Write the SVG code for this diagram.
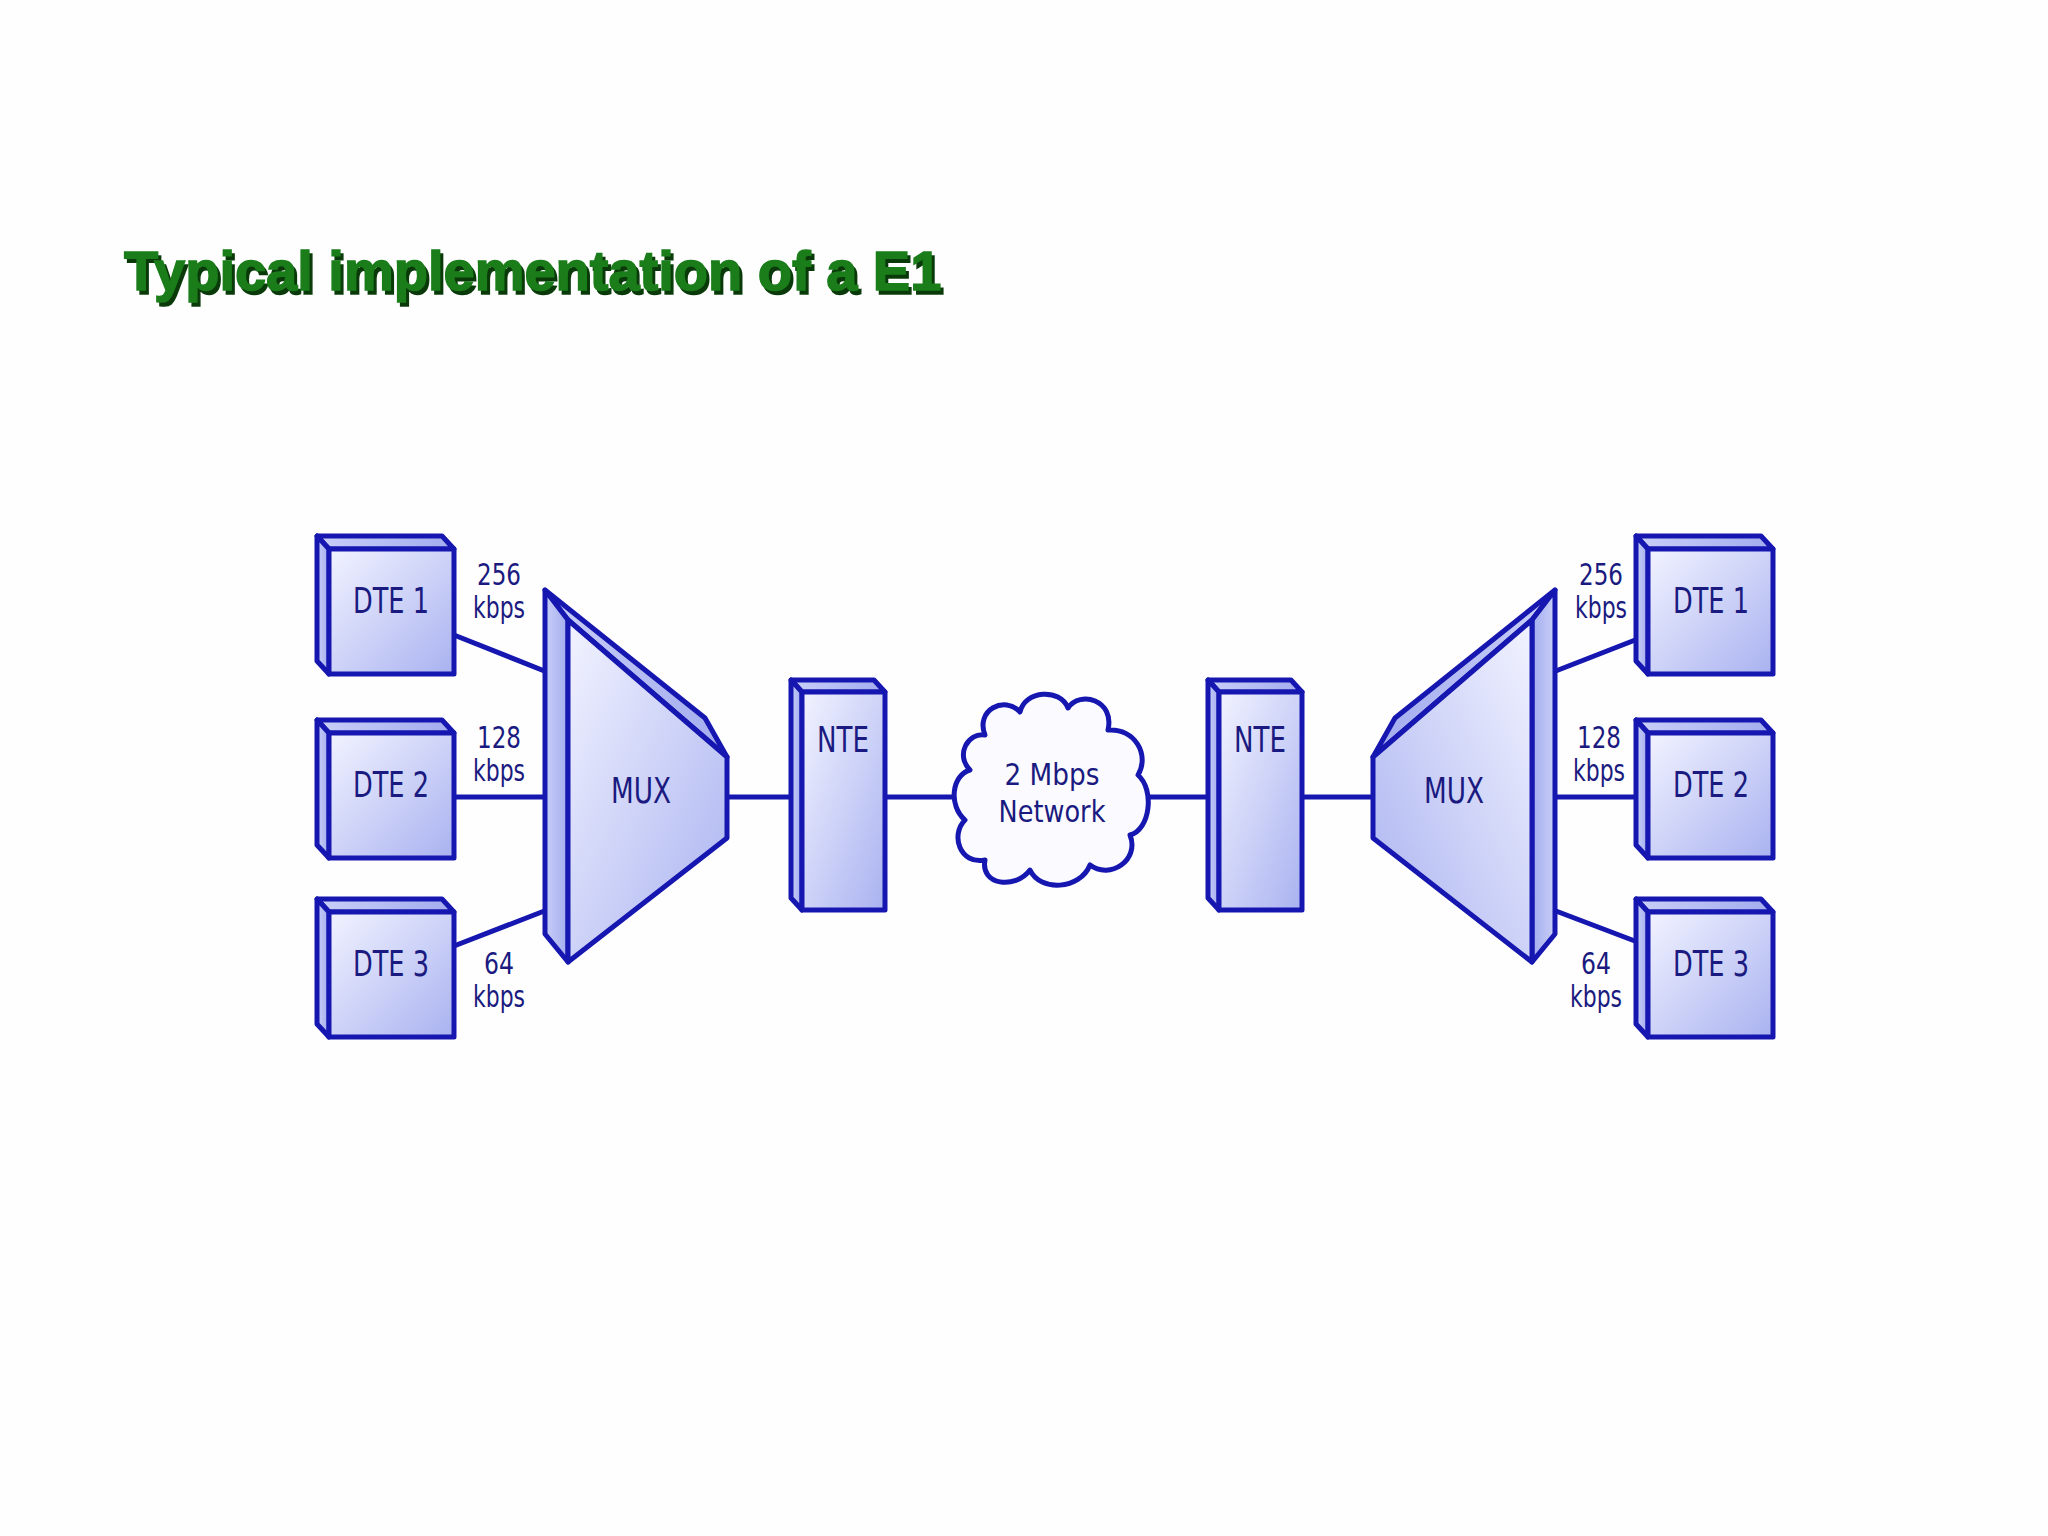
<svg xmlns="http://www.w3.org/2000/svg" width="2048" height="1536" viewBox="0 0 2048 1536">
<defs>
<linearGradient id="g" x1="0" y1="0" x2="1" y2="1"><stop offset="0" stop-color="#f2f3ff"/><stop offset="1" stop-color="#a9b2f0"/></linearGradient>
<linearGradient id="gs" x1="0" y1="0" x2="1" y2="0"><stop offset="0" stop-color="#c9cff8"/><stop offset="1" stop-color="#a3acee"/></linearGradient>
<style>
.s{stroke:#1616b0;stroke-width:5;stroke-linejoin:round}
.f{fill:url(#g)}
.b{fill:url(#gs)}
.c{fill:none;stroke:#1616b0;stroke-width:5}
.t{font-family:"DejaVu Sans",sans-serif;fill:#1a1a80;text-anchor:middle}
.lab{font-size:31px}
.nm{font-size:36px}
.title{font-family:"Liberation Sans",Arial,sans-serif;font-weight:bold;font-size:56px}
</style>
<g id="dte"><polygon class="s b" points="0,0 -12,-13 113,-13 125,0"/><polygon class="s b" points="0,0 -12,-13 -12,112 0,125"/><rect class="s f" x="0" y="0" width="125" height="125"/></g>
<g id="nte"><polygon class="s b" points="0,0 -11,-12 72,-12 83,0"/><polygon class="s b" points="0,0 -11,-12 -11,206 0,218"/><rect class="s f" x="0" y="0" width="83" height="218"/></g>
<g id="mux"><polygon class="s b" points="545,590 705,718 727,757 568,620"/><polygon class="s b" points="545,590 568,620 568,962 545,934"/><polygon class="s f" points="568,620 727,757 727,838 568,962"/></g>
</defs>
<rect width="2048" height="1536" fill="#fefefe"/>
<text x="127" y="294" class="title" fill="#0a3a0a" stroke="#0a3a0a" stroke-width="1.5">Typical implementation of a E1</text>
<text x="124" y="290" class="title" fill="#1a7d1a" stroke="#1a7d1a" stroke-width="1.5">Typical implementation of a E1</text>
<g id="connectors" class="c">
<line x1="454" y1="635" x2="552" y2="674"/><line x1="454" y1="797" x2="555" y2="797"/><line x1="454" y1="946" x2="552" y2="908"/>
<line x1="727" y1="797" x2="797" y2="797"/><line x1="885" y1="797" x2="962" y2="797"/>
<line x1="1146" y1="797" x2="1217" y2="797"/><line x1="1302" y1="797" x2="1373" y2="797"/>
<line x1="1648" y1="635" x2="1548" y2="674"/><line x1="1648" y1="797" x2="1545" y2="797"/><line x1="1648" y1="946" x2="1548" y2="908"/>
</g>
<g id="dte1L"><use href="#dte" x="329" y="549"/><text class="t nm" x="391" y="613" textLength="76" lengthAdjust="spacingAndGlyphs">DTE 1</text></g>
<g id="dte2L"><use href="#dte" x="329" y="733"/><text class="t nm" x="391" y="797" textLength="76" lengthAdjust="spacingAndGlyphs">DTE 2</text></g>
<g id="dte3L"><use href="#dte" x="329" y="912"/><text class="t nm" x="391" y="976" textLength="76" lengthAdjust="spacingAndGlyphs">DTE 3</text></g>
<g id="dte1R"><use href="#dte" x="1648" y="549"/><text class="t nm" x="1711" y="613" textLength="76" lengthAdjust="spacingAndGlyphs">DTE 1</text></g>
<g id="dte2R"><use href="#dte" x="1648" y="733"/><text class="t nm" x="1711" y="797" textLength="76" lengthAdjust="spacingAndGlyphs">DTE 2</text></g>
<g id="dte3R"><use href="#dte" x="1648" y="912"/><text class="t nm" x="1711" y="976" textLength="76" lengthAdjust="spacingAndGlyphs">DTE 3</text></g>
<g class="t lab">
<text x="499" y="585" textLength="44" lengthAdjust="spacingAndGlyphs">256</text><text x="499" y="618" textLength="52" lengthAdjust="spacingAndGlyphs">kbps</text>
<text x="499" y="748" textLength="44" lengthAdjust="spacingAndGlyphs">128</text><text x="499" y="781" textLength="52" lengthAdjust="spacingAndGlyphs">kbps</text>
<text x="499" y="974" textLength="30" lengthAdjust="spacingAndGlyphs">64</text><text x="499" y="1007" textLength="52" lengthAdjust="spacingAndGlyphs">kbps</text>
<text x="1601" y="585" textLength="44" lengthAdjust="spacingAndGlyphs">256</text><text x="1601" y="618" textLength="52" lengthAdjust="spacingAndGlyphs">kbps</text>
<text x="1599" y="748" textLength="44" lengthAdjust="spacingAndGlyphs">128</text><text x="1599" y="781" textLength="52" lengthAdjust="spacingAndGlyphs">kbps</text>
<text x="1596" y="974" textLength="30" lengthAdjust="spacingAndGlyphs">64</text><text x="1596" y="1007" textLength="52" lengthAdjust="spacingAndGlyphs">kbps</text>
</g>
<g id="muxL"><use href="#mux"/><text class="t nm" x="641" y="803" textLength="60" lengthAdjust="spacingAndGlyphs">MUX</text></g>
<g id="muxR"><use href="#mux" transform="translate(2100,0) scale(-1,1)"/><text class="t nm" x="1454" y="803" textLength="60" lengthAdjust="spacingAndGlyphs">MUX</text></g>
<g id="nteL"><use href="#nte" x="802" y="692"/><text class="t nm" x="843" y="752" textLength="52" lengthAdjust="spacingAndGlyphs">NTE</text></g>
<g id="nteR"><use href="#nte" x="1219" y="692"/><text class="t nm" x="1260" y="752" textLength="52" lengthAdjust="spacingAndGlyphs">NTE</text></g>
<g id="cloud">
<path class="s" fill="#fbfbff" d="M985,735 C975,710 1005,695 1020,712 C1025,690 1060,688 1068,708 C1080,690 1115,700 1108,730 C1135,728 1150,755 1138,775 C1155,790 1150,830 1130,835 C1140,860 1110,880 1090,865 C1080,890 1040,892 1030,870 C1015,890 980,885 985,860 C960,865 950,835 965,820 C948,805 952,775 970,770 C955,755 968,732 985,735 Z"/>
<text class="t lab" x="1052" y="785" textLength="95" lengthAdjust="spacingAndGlyphs">2 Mbps</text><text class="t lab" x="1052" y="822" textLength="107" lengthAdjust="spacingAndGlyphs">Network</text>
</g>
</svg>
